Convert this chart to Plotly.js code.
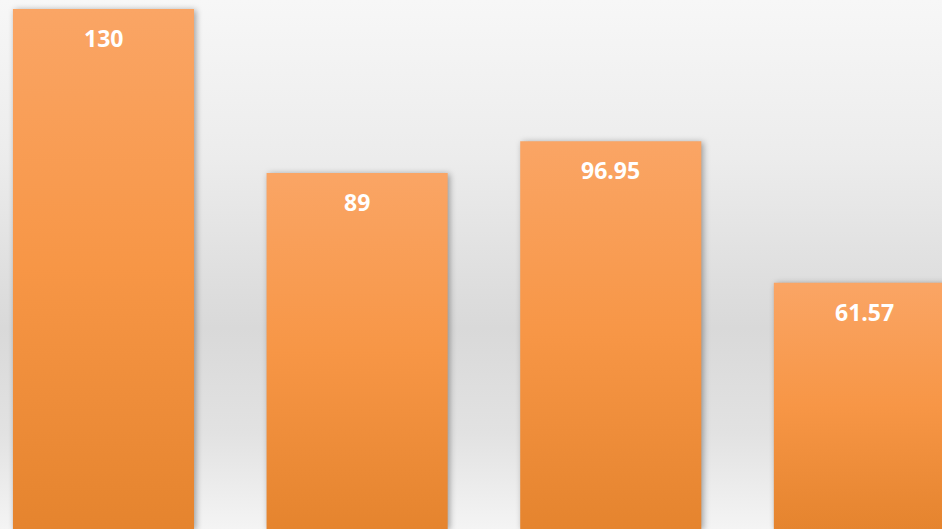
<!DOCTYPE html>
<html>
<head>
<meta charset="utf-8">
<script src="https://cdn.plot.ly/plotly-3.0.1.min.js"></script>
<style>
  html, body { margin: 0; padding: 0; }
  #chart {
    width: 942px; height: 529px;
    background: linear-gradient(to bottom, #f7f7f7 0%, #ececec 30%, #d9d9d9 62%, #e2e2e2 82%, #f4f4f4 100%);
  }
</style>
</head>
<body>
<div id="chart"></div>
<script>
const categories = ['Item 1', 'Item 2', 'Item 3', 'Item 4'];
const values = [130, 89, 96.95, 61.57];
const labels = ['130', '89', '96.95', '61.57'];

const trace = {
  type: 'bar',
  x: categories,
  y: values,
  marker: { color: '#F79646', line: { width: 0 } },
  hoverinfo: 'none'
};

const annotations = categories.map((c, i) => ({
  x: c, y: values[i], xref: 'x', yref: 'y',
  text: '<b>' + labels[i] + '</b>',
  showarrow: false, yshift: -29,
  font: { family: 'Open Sans, sans-serif', size: 23, color: '#ffffff' }
}));

const layout = {
  width: 942, height: 529,
  margin: { l: 0, r: 0, t: 0, b: 0 },
  paper_bgcolor: 'rgba(0,0,0,0)',
  plot_bgcolor: 'rgba(0,0,0,0)',
  bargap: 0.286,
  showlegend: false,
  xaxis: { type: 'category', range: [-0.408, 3.306], visible: false, fixedrange: true },
  yaxis: { range: [0, 132.25], visible: false, fixedrange: true },
  annotations: annotations
};

Plotly.newPlot('chart', [trace], layout, { staticPlot: true, displayModeBar: false }).then(gd => {
  const svg = gd.querySelector('svg.main-svg');
  const NS = 'http://www.w3.org/2000/svg';
  let defs = svg.querySelector('defs');
  if (!defs) { defs = document.createElementNS(NS, 'defs'); svg.insertBefore(defs, svg.firstChild); }
  const grad = document.createElementNS(NS, 'linearGradient');
  grad.setAttribute('id', 'barGrad');
  grad.setAttribute('x1', '0'); grad.setAttribute('y1', '0');
  grad.setAttribute('x2', '0'); grad.setAttribute('y2', '1');
  [['0%', '#FAA565'], ['50%', '#F79646'], ['100%', '#E5842E']].forEach(([o, c]) => {
    const s = document.createElementNS(NS, 'stop');
    s.setAttribute('offset', o); s.setAttribute('stop-color', c);
    grad.appendChild(s);
  });
  defs.appendChild(grad);
  gd.querySelectorAll('.bars .point path').forEach(p => {
    p.style.fill = 'url(#barGrad)';
    p.style.filter = 'drop-shadow(2px 1px 3px rgba(0,0,0,0.35))';
  });
});
</script>
</body>
</html>
